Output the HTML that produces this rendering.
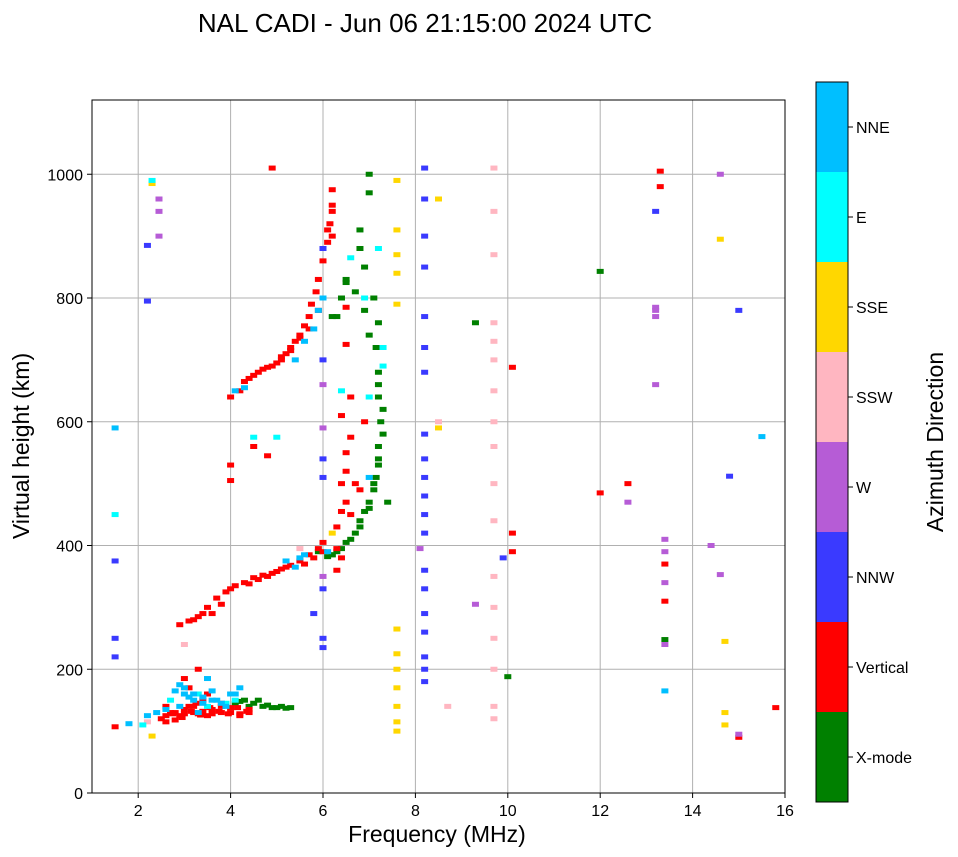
<!DOCTYPE html>
<html><head><meta charset="utf-8"><style>
body{margin:0;background:#fff;}
svg{display:block;font-family:"Liberation Sans","DejaVu Sans",sans-serif;}
</style></head><body>
<svg id="chart" width="958" height="857">
<text x="425" y="32" font-size="26" text-anchor="middle">NAL CADI - Jun 06 21:15:00 2024 UTC</text>
<g id="grid"></g>
<g id="marks"></g>
<rect x="92" y="100" width="693" height="693" fill="none" stroke="#000" stroke-width="1"/>
<g id="axes"></g>
<text x="437" y="842" font-size="23" text-anchor="middle">Frequency (MHz)</text>
<text transform="translate(29,446) rotate(-90)" font-size="23" text-anchor="middle">Virtual height (km)</text>
<g id="cbar"></g>
<text transform="translate(943,442) rotate(-90)" font-size="23" text-anchor="middle">Azimuth Direction</text>
</svg>
<script>
const categories=["X-mode","Vertical","NNW","W","SSW","SSE","E","NNE"];
const catColors=["#008000","#ff0000","#3a3aff","#b65cd6","#ffb6c1","#ffd700","#00ffff","#00bfff"];
const xTicks=[2,4,6,8,10,12,14,16];
const yTicks=[0,200,400,600,800,1000];
const vertFreqs=[2.9,3.1,3.3,3.5,3.7,3.9,4.1,4.3,4.5,4.7,
4.9,5.1,5.3,5.5,5.7,5.9,6.0,3.6,4.6,5.0,
2.5,2.6,2.7,2.8,2.9,3.0,3.1,3.2,3.3,3.4,
3.5,3.6,3.8,4.0,4.2,4.4,3.0,3.3,3.5,2.6,
1.5,3.1,4.0,4.2,4.4,4.6,4.8,5.0,5.1,5.2,
5.3,5.4,5.5,5.6,5.7,5.75,5.85,5.9,6.0,6.1,
6.15,6.2,6.2,6.4,6.5,6.4,6.6,6.5,6.3,6.8,
6.9,6.5,6.5,4.5,4.8,4.0,4.0,10.1,10.1,10.1,
13.3,13.3,13.4,13.4,15.8,15.0,4.9,12.6,12.0,3.8,
2.75,2.95,3.15,3.35,3.55,3.75,3.95,4.15,4.35,3.25,
4.3,4.5,4.7,4.9,5.1,5.3,5.5,5.7,5.9,6.1,
3.2,3.4,3.8,4.0,4.4,4.8,5.2,5.6,5.8,6.0,
2.6,2.8,3.0,3.2,3.4,3.6,3.8,4.0,4.2,4.4,
6.3,6.4,6.3,6.6,6.5,6.2,6.2,6.6,6.4,6.7];
const vertHeights=[272,278,285,300,315,325,335,340,348,352,
355,362,368,375,385,395,405,290,345,358,
120,125,130,118,125,135,140,130,128,150,
125,135,140,130,128,135,185,200,160,140,
107,170,640,650,670,680,688,695,700,710,
720,730,740,755,770,790,810,830,860,890,
920,950,975,500,550,610,640,470,430,490,
600,725,785,560,545,530,505,688,420,390,
980,1005,370,310,138,90,1010,500,485,145,
128,122,132,126,138,132,128,138,132,145,
665,675,685,690,705,715,735,750,780,910,
280,290,305,330,338,350,365,370,380,390,
115,130,128,140,132,128,130,138,125,130,
360,380,395,450,520,900,940,575,455,500];
const xmodeFreqs=[4.5,4.7,4.9,5.1,5.3,4.3,4.6,4.1,6.1,6.3,
6.5,6.7,6.8,6.9,7.0,7.1,7.15,7.2,7.2,7.25,
7.2,7.2,7.15,7.2,7.1,6.9,6.8,6.8,7.0,7.0,
6.3,6.4,6.5,5.9,7.4,13.4,10.0,9.3,12.0,6.2,
4.4,4.8,5.0,5.2,4.2,6.2,6.4,6.6,6.8,7.0,
7.1,7.2,7.3,7.3,7.2,7.0,6.9,6.7,6.5,6.2];
const xmodeHeights=[145,140,138,140,138,150,150,145,382,390,
405,420,440,455,470,490,510,530,560,600,
640,680,720,760,800,850,880,910,970,1000,
770,800,825,390,470,248,188,760,843,385,
140,142,138,137,148,385,395,410,430,460,
500,540,580,620,660,740,780,810,830,770];
const nneFreqs=[2.8,3.0,3.2,3.4,3.6,3.8,4.0,4.2,2.9,3.3,
2.4,2.2,1.8,3.5,5.5,5.2,5.8,5.6,5.4,4.3,
1.5,13.4,15.5,7.0,6.1,3.1,3.7,2.6,4.1,3.9,
3.0,3.2,3.4,3.6,2.9,5.6,5.4,5.9,6.0,4.1];
const nneHeights=[165,160,150,155,165,145,160,170,140,130,
130,125,112,185,380,375,750,730,700,655,
590,165,576,510,390,155,150,135,160,140,
170,160,145,150,175,385,365,780,800,650];
const eFreqs=[2.7,3.5,4.1,2.1,6.6,6.9,7.2,7.3,7.3,6.4,
7.0,4.5,5.0,1.5,2.3,3.3,3.9];
const eHeights=[150,140,150,110,865,800,880,690,720,650,
640,575,575,450,990,160,145];
const nnwFreqs=[6.0,6.0,6.0,6.0,6.0,6.0,6.0,8.2,8.2,8.2,
8.2,8.2,8.2,8.2,8.2,8.2,8.2,8.2,8.2,8.2,
8.2,8.2,8.2,8.2,8.2,8.2,8.2,1.5,1.5,1.5,
9.9,14.8,15.0,2.2,2.2,13.2,5.8];
const nnwHeights=[235,250,330,510,540,700,880,580,540,510,
480,450,420,360,330,290,260,220,200,180,
720,770,850,900,960,1010,680,375,220,250,
380,512,780,885,795,940,290];
const wFreqs=[2.45,2.45,2.45,13.2,13.2,13.4,13.4,13.4,13.4,13.2,
12.6,14.4,14.6,14.6,6.0,6.0,6.0,9.3,8.1,15.0,13.2];
const wHeights=[960,940,900,785,770,410,390,340,240,660,
470,400,353,1000,660,590,350,305,395,95,780];
const sswFreqs=[9.7,9.7,9.7,9.7,9.7,9.7,9.7,9.7,9.7,9.7,
9.7,9.7,9.7,9.7,9.7,9.7,9.7,8.5,3.0,2.2,5.5,8.7];
const sswHeights=[120,140,200,250,300,350,440,500,560,600,
650,700,730,760,870,940,1010,600,240,115,395,140];
const sseFreqs=[7.6,7.6,7.6,7.6,7.6,7.6,7.6,7.6,7.6,7.6,7.6,7.6,
8.5,8.5,14.6,14.7,14.7,14.7,2.3,6.2,2.3];
const sseHeights=[100,115,140,170,200,225,265,790,840,870,910,990,
960,590,895,245,130,110,92,420,985];
const series=[[0,xmodeFreqs,xmodeHeights],[1,vertFreqs,vertHeights],[2,nnwFreqs,nnwHeights],[3,wFreqs,wHeights],[4,sswFreqs,sswHeights],[5,sseFreqs,sseHeights],[6,eFreqs,eHeights],[7,nneFreqs,nneHeights]];
const NS="http://www.w3.org/2000/svg";
const X0=92,X1=785,Y0=793,Y1=100;
function xs(f){return X0+(f-1)/15*(X1-X0);}
function ys(h){return Y0-h/1120*(Y0-Y1);}
function mk(tag,attrs,parent){const e=document.createElementNS(NS,tag);for(const k in attrs)e.setAttribute(k,attrs[k]);parent.appendChild(e);return e;}
const grid=document.getElementById('grid'),axes=document.getElementById('axes'),marks=document.getElementById('marks'),cbar=document.getElementById('cbar');
xTicks.forEach(t=>{const x=xs(t);
 if(t<16){const g=mk('line',{x1:x,x2:x,y1:Y1,y2:Y0,stroke:'#b0b0b0','stroke-width':1},grid);}
 const tk=mk('line',{x1:x,x2:x,y1:Y0,y2:Y0+5,stroke:'#000'},axes);
 
 
 const tx=mk('text',{x:x,y:Y0+23,'font-size':16,'text-anchor':'middle'},axes);tx.textContent=t;
 
 });
yTicks.forEach(t=>{const y=ys(t);
 if(t>0){const g=mk('line',{x1:X0,x2:X1,y1:y,y2:y,stroke:'#b0b0b0','stroke-width':1},grid);}
 const tk=mk('line',{x1:X0-5,x2:X0,y1:y,y2:y,stroke:'#000'},axes);
 
 
 const tx=mk('text',{x:X0-9,y:y+6,'font-size':16,'text-anchor':'end'},axes);tx.textContent=t;
 
 });
series.forEach(s=>{const d=s[0],fs=s[1],hs=s[2];
 const n=Math.min(fs.length,hs.length);
 for(let i=0;i<n;i++){
  const r=mk('rect',{x:xs(fs[i])-3.5,y:ys(hs[i])-2.5,width:7,height:5,fill:catColors[d]},marks);
  
  
 }});
const CB0=82,CB1=802,segH=(CB1-CB0)/categories.length;
categories.forEach((c,i)=>{const yb=CB1-(i+1)*segH;
 const r=mk('rect',{x:816,y:yb,width:32,height:segH,fill:catColors[i]},cbar);
 
 
 mk('line',{x1:848,x2:853,y1:yb+segH/2,y2:yb+segH/2,stroke:'#000'},cbar);
 const t=mk('text',{x:856,y:yb+segH/2+6,'font-size':16},cbar);t.textContent=c;
 
 });
const fr=mk('rect',{x:816,y:CB0,width:32,height:CB1-CB0,fill:'none',stroke:'#000'},cbar);


</script>
</body></html>
